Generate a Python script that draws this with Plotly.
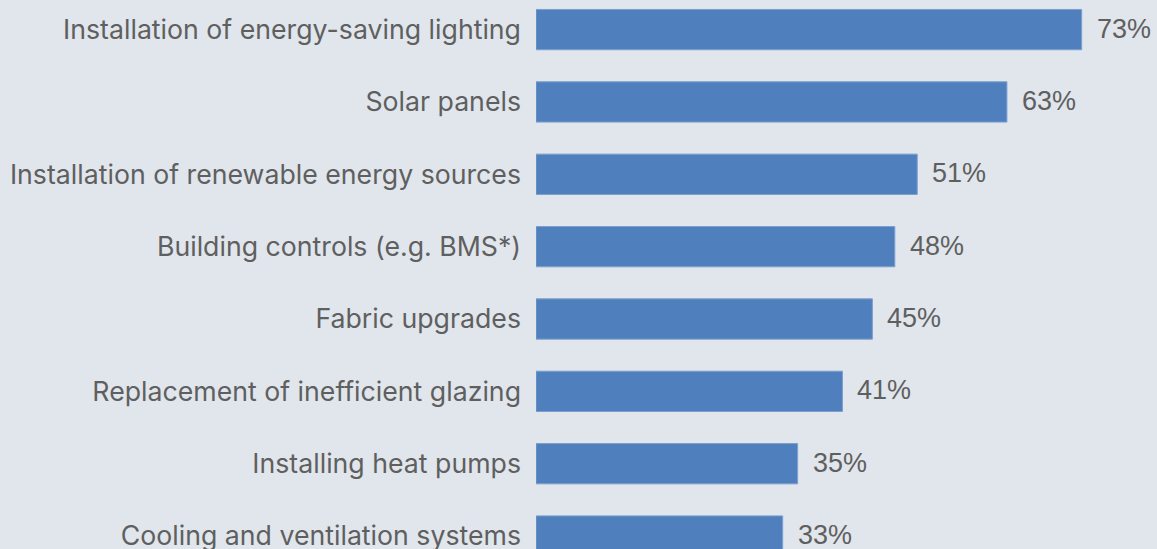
import plotly.graph_objects as go

categories = [
    "Installation of energy-saving lighting",
    "Solar panels",
    "Installation of renewable energy sources",
    "Building controls (e.g. BMS*)",
    "Fabric upgrades",
    "Replacement of inefficient glazing",
    "Installing heat pumps",
    "Cooling and ventilation systems",
]
values = [73, 63, 51, 48, 45, 41, 35, 33]

BG = "#e0e6ec"
BAR = "#4f80bd"
TEXT = "#5f5f5f"

fig = go.Figure(
    go.Bar(
        x=values,
        y=categories,
        orientation="h",
        width=0.557,
        marker=dict(color=BAR, line=dict(color="#7c9fcf", width=1)),
        hoverinfo="skip",
    )
)

for cat, v in zip(categories, values):
    fig.add_annotation(
        x=v, y=cat, xref="x", yref="y",
        text=f"{v}%", showarrow=False,
        xanchor="left", yanchor="middle", xshift=13, yshift=1,
        font=dict(family="Liberation Sans, Arial, sans-serif", size=27, color=TEXT),
    )

fig.update_layout(
    width=1157, height=549,
    margin=dict(l=536, r=0, t=0, b=0, autoexpand=False),
    paper_bgcolor=BG, plot_bgcolor=BG,
    showlegend=False,
    font=dict(family="Inter, sans-serif", size=26.7, color=TEXT),
)
fig.update_xaxes(
    range=[0, (1157 - 536) / 7.475],
    showgrid=False, zeroline=False, showticklabels=False, showline=False,
    automargin=False,
)
fig.update_yaxes(
    type="category",
    range=[7.179, -0.409],
    showgrid=False, zeroline=False, showline=False,
    ticks="", ticklabelstandoff=14, automargin=False,
    tickfont=dict(family="Inter, sans-serif", size=26.7, color=TEXT),
)

fig.write_html("out.html")
